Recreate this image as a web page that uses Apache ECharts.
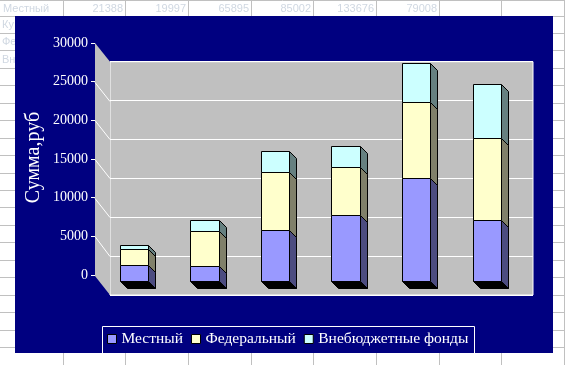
<!DOCTYPE html>
<html><head><meta charset="utf-8">
<script src="https://cdn.jsdelivr.net/npm/echarts@6/dist/echarts.min.js"></script>
<style>html,body{margin:0;padding:0;background:#fff}#c{width:565px;height:365px}</style>
</head><body><div id="c"></div>
<script>
// ---- data ----
const categories = ['1', '2', '3', '4', '5', '6'];
const seriesNames = ['Местный', 'Федеральный', 'Внебюджетные фонды'];
const mestny   = [2139, 2000, 6590, 8500, 13368, 7901];
const federal  = [1990, 4490, 7475, 6210, 9730, 10550];
const vnebudzh = [516, 1420, 2710, 2710, 5110, 6970];
const yMin = 0, yMax = 30000, yStep = 5000;
const axisTitle = 'Сумма,руб';
const sheetRowLabel = 'Местный';
const sheetRowValues = ['21388', '19997', '65895', '85002', '133676', '79008'];
const sheetSideLabels = ['Ку', 'Фе', 'Вн'];

// ---- styles ----
const serif = "'Liberation Serif','Times New Roman',serif";
const sans = "'Liberation Sans',Arial,sans-serif";
const frontColors = ['#9999FF', '#FFFFCC', '#CCFFFF'];
const sideColors = ['#4C4C80', '#80806A', '#668080'];
const navy = '#000080';
const wall = '#C0C0C0';
const depth = 7;

const values = [mestny, federal, vnebudzh];
const bases = values.map((_, s) => categories.map((c, i) => {
  let b = 0; for (let k = 0; k < s; k++) b += values[k][i]; return b;
}));

function makeRender(s) {
  return function (params, api) {
    const cat = api.value(0), lo = api.value(1), hi = api.value(2);
    const p0 = api.coord([cat, lo]);
    const p1 = api.coord([cat, hi]);
    const bw = api.size([1, 0])[0] * 0.405;
    const xl = Math.round(p0[0] - bw / 2) + 0.5, xr = Math.round(p0[0] + bw / 2) + 0.5;
    const y0 = Math.round(p0[1]) + 0.5, y1 = Math.round(p1[1]) + 0.5;
    const d = depth;
    const ch = [];
    if (s === 0) {
      ch.push({ type: 'polygon', shape: { points: [[xl, y0], [xr, y0], [xr + d, y0 + d], [xl + d, y0 + d]] },
        style: { fill: '#000', stroke: '#000', lineWidth: 1 } });
    }
    ch.push({ type: 'polygon', shape: { points: [[xr, y1], [xr + d, y1 + d], [xr + d, y0 + d], [xr, y0]] },
      style: { fill: sideColors[s], stroke: '#000', lineWidth: 1 } });
    ch.push({ type: 'rect', shape: { x: xl, y: y1, width: xr - xl, height: y0 - y1 },
      style: { fill: frontColors[s], stroke: '#000', lineWidth: 1 } });
    return { type: 'group', children: ch };
  };
}

const chart = echarts.init(document.getElementById('c'), null, { renderer: 'canvas' });

const option = {
  animation: false,
  grid: [
    { left: 95, top: 43, width: 1, height: 232 },                       // front axis
    { left: 110, top: 61.7, width: 423, height: 233.3, show: true,      // back wall
      backgroundColor: wall, borderColor: '#fff', borderWidth: 1 },
    { left: 98.5, top: 48.8, width: 423.6, height: 232.5 }              // bars
  ],
  xAxis: [
    { gridIndex: 0, type: 'value', show: false },
    { gridIndex: 1, type: 'value', show: false },
    { gridIndex: 2, type: 'category', data: categories, show: false }
  ],
  yAxis: [
    { gridIndex: 0, type: 'value', min: yMin, max: yMax, interval: yStep,
      axisLine: { show: false },
      axisTick: { show: true, length: 4, lineStyle: { color: '#fff', width: 1 } },
      axisLabel: { margin: 7, color: '#fff', fontSize: 14, fontFamily: serif, formatter: v => String(v) },
      splitLine: { show: false } },
    { gridIndex: 1, type: 'value', min: yMin, max: yMax, interval: yStep,
      axisLine: { show: false }, axisTick: { show: false }, axisLabel: { show: false },
      splitLine: { show: true, lineStyle: { color: '#fff', width: 1 } } },
    { gridIndex: 2, type: 'value', min: yMin, max: yMax, show: false, splitLine: { show: false } }
  ],
  legend: {
    data: seriesNames.map((n, i) => ({ name: n, icon: 'rect',
      itemStyle: { color: frontColors[i], borderColor: '#000', borderWidth: 1 } })),
    left: 107, top: 331, itemWidth: 9, itemHeight: 9, itemGap: 8, padding: 0,
    selectedMode: false,
    textStyle: { color: '#fff', fontSize: 15.5, fontFamily: serif }
  },
  series: seriesNames.map((n, s) => ({
    name: n, type: 'custom', xAxisIndex: 2, yAxisIndex: 2,
    itemStyle: { color: frontColors[s], borderColor: '#000', borderWidth: 1 },
    renderItem: makeRender(s),
    encode: { x: 0, y: [1, 2] },
    data: categories.map((c, i) => [i, bases[s][i], bases[s][i] + values[s][i]])
  }))
};
chart.setOption(option);

// ---- decorations derived from axes ----
const yA = v => chart.convertToPixel({ yAxisIndex: 0 }, v);
const yB = v => chart.convertToPixel({ yAxisIndex: 1 }, v);
const frontX = 95, backX = 110;
const g = [];

// spreadsheet behind chart
const colX = [63.5, 125.5, 188.5, 251.5, 313.5, 376.5, 439.5, 501.5, 564.5];
colX.forEach(x => g.push({ type: 'line', z: -20, shape: { x1: x, y1: 0, x2: x, y2: 365 }, style: { stroke: '#C0C0C0', lineWidth: 1 } }));
for (let k = -1; k < 21; k++) {
  const y = k < 0 ? 0.5 : Math.round(15.5 + k * 17.45) + 0.5;
  g.push({ type: 'line', z: -20, shape: { x1: 0, y1: y, x2: 565, y2: y }, style: { stroke: '#C0C0C0', lineWidth: 1 } });
}
g.push({ type: 'text', z: -19, x: 3, y: 9, style: { text: sheetRowLabel, font: '11px ' + sans, fill: '#d0d8e2', verticalAlign: 'middle' } });
sheetRowValues.forEach((t, i) => g.push({ type: 'text', z: -19, x: colX[i + 1] - 2.5, y: 9,
  style: { text: t, font: '11px ' + sans, fill: '#d0d8e2', align: 'right', verticalAlign: 'middle' } }));
sheetSideLabels.forEach((t, i) => g.push({ type: 'text', z: -19, x: 2, y: 25 + i * 17.45,
  style: { text: t, font: '11px ' + sans, fill: '#d0d8e2', verticalAlign: 'middle' } }));

// navy chart area
g.push({ type: 'rect', z: -10, shape: { x: 15, y: 16, width: 538, height: 337 }, style: { fill: navy } });

// side wall
g.push({ type: 'polygon', z: 1, shape: { points: [[frontX, yA(yMax)], [backX, yB(yMax)], [backX, yB(yMin)], [frontX, yA(yMin) + 1]] },
  style: { fill: wall } });
for (let v = yMin + yStep; v < yMax; v += yStep) {
  g.push({ type: 'line', z: 2, shape: { x1: frontX, y1: Math.round(yA(v)) + 0.5, x2: backX, y2: Math.round(yB(v)) + 0.5 },
    style: { stroke: '#fff', lineWidth: 1 } });
}

// axis title
g.push({ type: 'text', z: 3, x: 34, y: 157.5, rotation: Math.PI / 2,
  style: { text: axisTitle, font: '20px ' + serif, fill: '#fff', align: 'center', verticalAlign: 'middle' } });

// legend box (bottom edge hidden below chart area)
g.push({ type: 'polyline', z: 3, shape: { points: [[102.5, 353], [102.5, 326.5], [474.5, 326.5], [474.5, 353]] },
  style: { stroke: '#fff', lineWidth: 1, fill: null } });

chart.setOption({ graphic: { elements: g } });
</script>
</body></html>
